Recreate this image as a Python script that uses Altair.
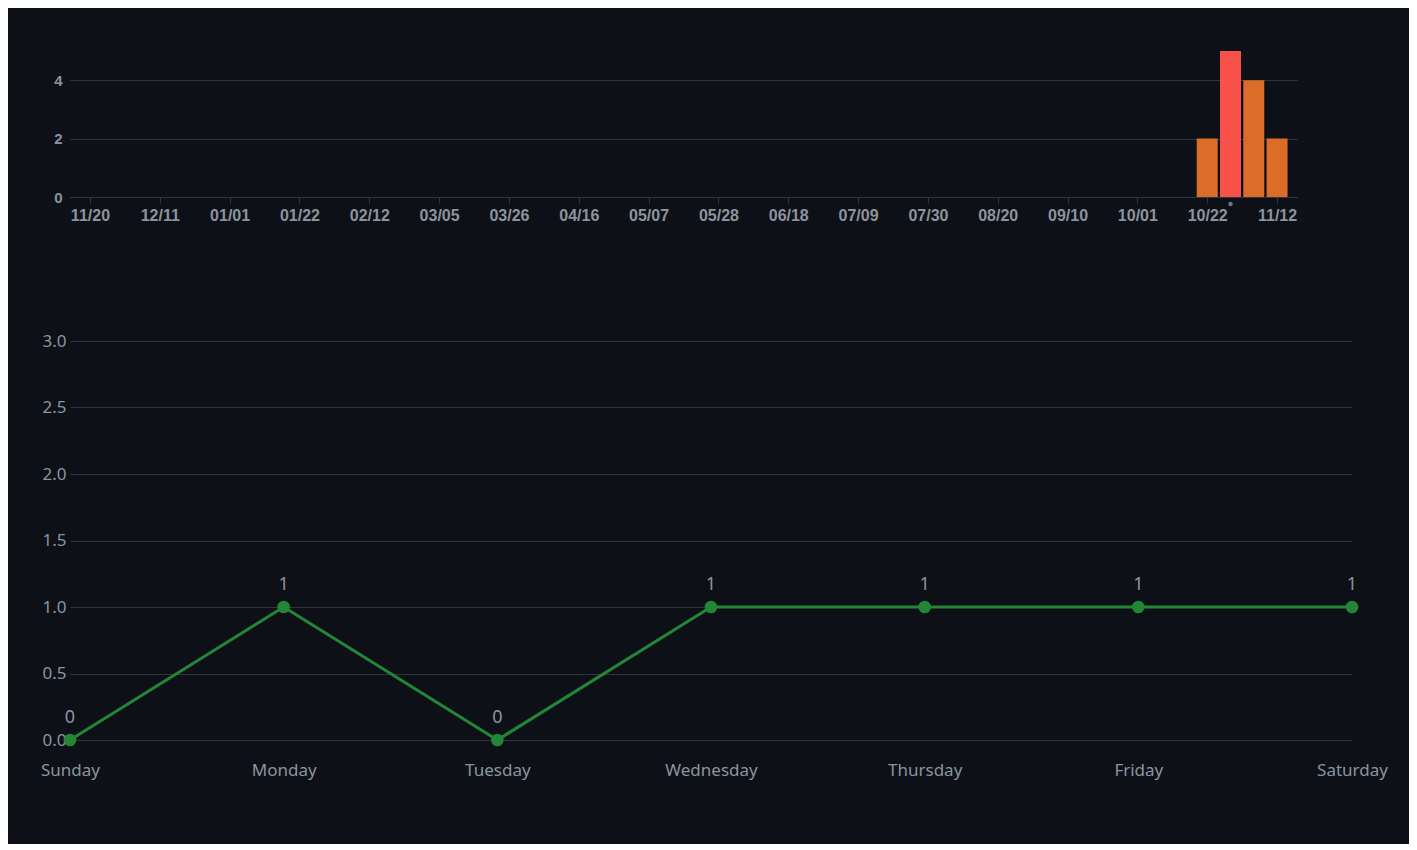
import altair as alt
import pandas as pd

# ---- top chart data (weekly counts) ----
week_starts = ["2023-10-22", "2023-10-29", "2023-11-05", "2023-11-12"]
week_counts = [2, 5, 4, 2]
week_highlight = [False, True, False, False]
marker_week = ["2023-10-29"]
x_domain = ["2022-11-14", "2023-11-18"]
tick_dates = ["2022-11-20", "2022-12-11", "2023-01-01", "2023-01-22", "2023-02-12",
              "2023-03-05", "2023-03-26", "2023-04-16", "2023-05-07", "2023-05-28",
              "2023-06-18", "2023-07-09", "2023-07-30", "2023-08-20", "2023-09-10",
              "2023-10-01", "2023-10-22", "2023-11-12"]
top_y_ticks = [0, 2, 4]

# ---- bottom chart data (per weekday) ----
days = ["Sunday", "Monday", "Tuesday", "Wednesday", "Thursday", "Friday", "Saturday"]
day_counts = [0, 1, 0, 1, 1, 1, 1]
bottom_y_ticks = [0, 0.5, 1.0, 1.5, 2.0, 2.5, 3.0]

BG = "#0d1117"
GRID = "#30363d"
TXT = "#8b949e"
ORANGE = "#db6d28"
RED = "#f85149"
GREEN = "#238636"
MARK = "#6e7681"


def dt(s):
    y, m, d = (int(v) for v in s.split("-"))
    return alt.DateTime(year=y, month=m, date=d, utc=True)


bars_df = pd.DataFrame({"week": week_starts, "count": week_counts, "hi": week_highlight})
marker_df = pd.DataFrame({"week": marker_week, "count": [0] * len(marker_week)})

top_x = alt.X(
    "week:T",
    scale=alt.Scale(type="utc", domain=[dt(d) for d in x_domain], padding=0),
    axis=alt.Axis(values=[dt(d) for d in tick_dates],
                  labelExpr="utcFormat(datum.value, '%m/%d')",
                  title=None, grid=False, domainColor=GRID, tickColor=GRID, tickSize=6,
                  labelColor=TXT, labelFont="Liberation Sans", labelFontWeight="bold",
                  labelFontSize=16, labelPadding=4),
)
top_y = alt.Y(
    "count:Q",
    scale=alt.Scale(domain=[0, 5], nice=False),
    axis=alt.Axis(values=top_y_ticks, title=None, domain=False, ticks=False, gridColor=GRID,
                  labelColor=TXT, labelFont="Liberation Sans", labelFontWeight="bold",
                  labelFontSize=15, labelPadding=8),
)

bars = alt.Chart(bars_df).mark_bar(size=21).encode(
    x=top_x, y=top_y,
    color=alt.condition("datum.hi", alt.value(RED), alt.value(ORANGE)),
)
marker = alt.Chart(marker_df).mark_circle(size=20, color=MARK, opacity=1, yOffset=7).encode(
    x="week:T", y="count:Q"
)
top = alt.layer(bars, marker).properties(width=1227, height=146)

days_df = pd.DataFrame({"day": days, "count": day_counts})
base = alt.Chart(days_df).encode(
    x=alt.X("day:N", sort=days, scale=alt.Scale(type="point", padding=0),
            axis=alt.Axis(labelAngle=0, title=None, domain=False, ticks=False, grid=False,
                          labelColor=TXT, labelFont="Noto Sans", labelFontSize=17,
                          labelPadding=22)),
    y=alt.Y("count:Q", scale=alt.Scale(domain=[0, 3], nice=False),
            axis=alt.Axis(values=bottom_y_ticks, format=".1f", title=None, domain=False,
                          ticks=False, gridColor=GRID, labelColor=TXT, labelFont="Noto Sans",
                          labelFontSize=17, labelPadding=4)),
)
line = base.mark_line(color=GREEN, strokeWidth=3)
pts = base.mark_circle(color=GREEN, size=160, opacity=1)
labels = base.mark_text(dy=-22, fontSize=18, color=TXT, font="Noto Sans").encode(text="count:Q")
bottom = alt.layer(line, pts, labels).properties(width=1282, height=399)

chart = (
    alt.vconcat(top, bottom, spacing=109)
    .configure(background=BG, padding={"left": 32, "top": 43, "right": 21, "bottom": 66})
    .configure_view(stroke=None)
)

chart.save("out.html", embed_options={"renderer": "svg", "actions": False})
